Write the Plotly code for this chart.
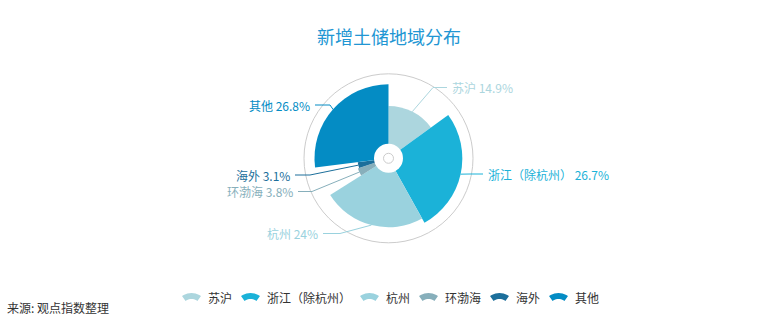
import math
import plotly.graph_objects as go

# ---------------- data ----------------
categories = ["苏沪", "浙江（除杭州）", "杭州", "环渤海", "海外", "其他"]
values = [14.9, 26.7, 24, 3.8, 3.1, 26.8]
title_text = "新增土储地域分布"
source_text = "来源: 观点指数整理"

# ---------------- style ----------------
colors = ["#acd6de", "#1bb2d8", "#9ad2de", "#87afbb", "#1c6f9b", "#048cc4"]
W, H = 783, 322
CX, CY = 388.5, 158.3          # pie centre (px)
R_OUT = 84.5                    # outer grey ring radius (px)
R_MIN, R_MAX = 31, 74           # rose radius range (px) for min/max value
HOLE_R, DOT_R = 14.5, 5
FONT = "Microsoft YaHei, Noto Sans CJK SC, sans-serif"
# label placement: elbow x, elbow y, line end x, side
label_layout = [
    (433, 87.5, 447, "right"),
    (470, 174, 483, "right"),
    (340, 233.5, 323, "left"),
    (312, 191.5, 298, "left"),
    (310, 175, 295, "left"),
    (330, 105, 315, "left"),
]
LEGEND_Y = 297
LEGEND_CX = 388

# ---------------- derived geometry ----------------
total = sum(values)
vmin, vmax = min(values), max(values)
widths = [v / total * 360 for v in values]
mids = []
acc = 0
for w in widths:
    mids.append(acc + w / 2)
    acc += w
radii = [R_MIN + (v - vmin) / (vmax - vmin) * (R_MAX - R_MIN) for v in values]

fig = go.Figure()

fig.add_trace(go.Barpolar(
    r=radii, theta=mids, width=widths, base=0,
    marker=dict(color=colors, line=dict(width=0)),
    hoverinfo="skip", showlegend=False,
))

annotations = []
shapes = []

# label lines + texts
for i, (cat, v) in enumerate(zip(categories, values)):
    th = math.radians(mids[i])
    sx = CX + radii[i] * math.sin(th)
    sy = CY - radii[i] * math.cos(th)
    ex, ey, lx, side = label_layout[i]
    shapes.append(dict(type="path", xref="x", yref="y",
                       path=f"M {sx:.2f},{sy:.2f} L {ex},{ey} L {lx},{ey}",
                       line=dict(color=colors[i], width=1), layer="above"))
    txt = f"{cat} {v:g}%"
    annotations.append(dict(
        x=lx + (3 if side == "right" else -3), y=ey, xref="x", yref="y",
        text=txt, showarrow=False, xanchor="left" if side == "right" else "right",
        yanchor="middle", font=dict(family=FONT, size=12, color=colors[i]),
    ))

# anchor trace for the pixel-space cartesian overlay
fig.add_trace(go.Scatter(x=[0, W], y=[0, H], mode="markers", marker=dict(opacity=0),
                         hoverinfo="skip", showlegend=False))

# centre white disc and small grey ring
shapes.append(dict(type="circle", xref="x", yref="y", x0=CX - HOLE_R, x1=CX + HOLE_R,
                   y0=CY - HOLE_R, y1=CY + HOLE_R, fillcolor="white",
                   line=dict(width=0), layer="above"))
shapes.append(dict(type="circle", xref="x", yref="y", x0=CX - DOT_R, x1=CX + DOT_R,
                   y0=CY - DOT_R, y1=CY + DOT_R, fillcolor="white",
                   line=dict(width=1, color="#cccccc"), layer="above"))

# manual legend with fan icons
ICON_W, TXT_GAP, ITEM_GAP, CH = 25, 27, 8, 12
item_w = [TXT_GAP + CH * len(c) + ITEM_GAP for c in categories]
total_w = sum(item_w) - ITEM_GAP
x = LEGEND_CX - total_w / 2


def fan_path(cx, cy_mid):
    ro, ri, half = 16, 10, math.radians(36.4)
    c = cy_mid + 12  # circle centre below
    pts = []
    n = 10
    for k in range(n + 1):
        a = -half + 2 * half * k / n
        pts.append((cx + ro * math.sin(a), c - ro * math.cos(a)))
    for k in range(n + 1):
        a = half - 2 * half * k / n
        pts.append((cx + ri * math.sin(a), c - ri * math.cos(a)))
    return "M " + " L ".join(f"{px:.2f},{py:.2f}" for px, py in pts) + " Z"


for i, c in enumerate(categories):
    icx = x + ICON_W / 2
    shapes.append(dict(type="path", xref="x", yref="y", path=fan_path(icx, LEGEND_Y),
                       fillcolor=colors[i], line=dict(width=0), layer="above"))
    annotations.append(dict(x=x + TXT_GAP, y=LEGEND_Y, xref="x", yref="y", text=c,
                            showarrow=False, xanchor="left", yanchor="middle",
                            font=dict(family=FONT, size=12, color="#333333")))
    x += item_w[i]

# title & source
annotations.append(dict(x=CX, y=36, xref="x", yref="y", text=title_text, showarrow=False,
                        xanchor="center", yanchor="middle",
                        font=dict(family=FONT, size=18, color="#2196d3")))
annotations.append(dict(x=5, y=307, xref="x", yref="y", text=source_text, showarrow=False,
                        xanchor="left", yanchor="middle",
                        font=dict(family=FONT, size=12, color="#333333")))

fig.update_layout(
    width=W, height=H, margin=dict(l=0, r=0, t=0, b=0),
    paper_bgcolor="white", plot_bgcolor="rgba(0,0,0,0)",
    showlegend=False,
    xaxis=dict(range=[0, W], domain=[0, 1], visible=False, fixedrange=True),
    yaxis=dict(range=[H, 0], domain=[0, 1], visible=False, fixedrange=True),
    polar=dict(
        domain=dict(x=[(CX - R_OUT) / W, (CX + R_OUT) / W],
                    y=[(H - CY - R_OUT) / H, (H - CY + R_OUT) / H]),
        bgcolor="rgba(0,0,0,0)",
        radialaxis=dict(range=[0, R_OUT], visible=False),
        angularaxis=dict(direction="clockwise", rotation=90, showgrid=False,
                         showticklabels=False, ticks="", showline=True,
                         linecolor="#cccccc", linewidth=1),
    ),
    annotations=annotations, shapes=shapes,
)

fig.write_html("out.html")
